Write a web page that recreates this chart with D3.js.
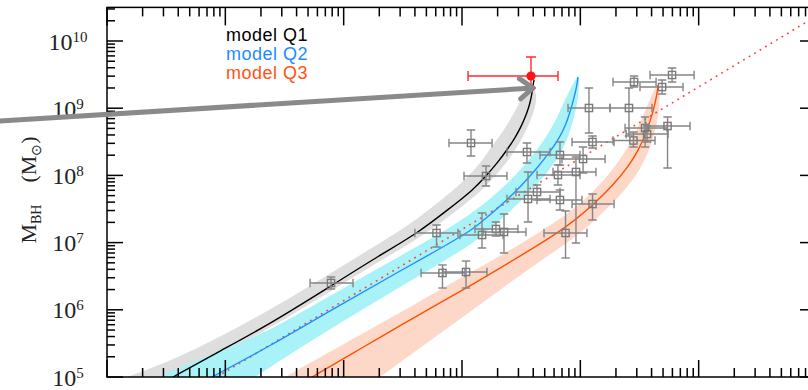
<!DOCTYPE html>
<html><head><meta charset="utf-8">
<script src="https://cdn.jsdelivr.net/npm/d3@7"></script>
<style>
html,body{margin:0;padding:0;background:#fff;}
svg{display:block;}
</style></head><body>
<svg id="chart" width="808" height="390"></svg>
<script>
// All quantities are stored as log10 values.
// Model curves (host mass, black-hole mass)
const q1X = [6.558, 6.955, 7.378, 7.893, 8.307, 8.628, 8.899, 9.093, 9.203, 9.304, 9.380, 9.448, 9.507, 9.549, 9.575, 9.592, 9.600, 9.609];
const q1Y = [5.000, 5.387, 5.789, 6.354, 6.815, 7.143, 7.515, 7.783, 7.991, 8.199, 8.378, 8.557, 8.750, 8.929, 9.077, 9.226, 9.345, 9.420];
const q2X = [6.887, 7.378, 7.910, 8.476, 8.780, 8.983, 9.093, 9.237, 9.380, 9.507, 9.634, 9.744, 9.828, 9.879, 9.913, 9.947, 9.972, 9.980];
const q2Y = [5.000, 5.461, 6.012, 6.577, 6.875, 7.083, 7.202, 7.411, 7.634, 7.857, 8.110, 8.348, 8.571, 8.765, 8.943, 9.152, 9.345, 9.464];
const q3X = [7.732, 8.138, 8.501, 8.899, 9.068, 9.380, 9.659, 9.828, 9.955, 10.107, 10.285, 10.403, 10.488, 10.564, 10.614, 10.648, 10.657];
const q3Y = [5.000, 5.417, 5.789, 6.190, 6.354, 6.682, 6.979, 7.173, 7.336, 7.560, 7.872, 8.125, 8.363, 8.661, 8.943, 9.196, 9.345];

// Model scatter envelopes: upper-left and lower-right edges
const q1UpX = [6.169, 6.558, 6.955, 7.378, 7.893, 8.307, 8.628, 8.899, 9.068, 9.186, 9.279, 9.372, 9.440, 9.490, 9.541, 9.575];
const q1UpY = [5.000, 5.253, 5.595, 5.997, 6.548, 6.994, 7.351, 7.738, 8.006, 8.259, 8.497, 8.720, 8.929, 9.107, 9.226, 9.301];
const q1LoX = [6.617, 6.955, 7.378, 7.893, 8.307, 8.628, 8.899, 9.093, 9.237, 9.347, 9.440, 9.516, 9.575, 9.617, 9.634, 9.609];
const q1LoY = [5.000, 5.327, 5.729, 6.280, 6.726, 7.054, 7.396, 7.664, 7.902, 8.125, 8.348, 8.571, 8.795, 9.003, 9.167, 9.301];

const q2UpX = [6.423, 6.887, 7.378, 7.910, 8.476, 8.780, 8.983, 9.093, 9.237, 9.380, 9.507, 9.634, 9.727, 9.803, 9.854, 9.904, 9.947, 9.972];
const q2UpY = [5.000, 5.342, 5.685, 6.235, 6.801, 7.098, 7.321, 7.455, 7.649, 7.872, 8.110, 8.378, 8.616, 8.854, 9.062, 9.241, 9.390, 9.464];
const q2LoX = [7.251, 7.378, 7.910, 8.476, 8.780, 8.983, 9.093, 9.237, 9.380, 9.507, 9.634, 9.744, 9.828, 9.887, 9.938, 9.972, 9.989, 9.989];
const q2LoY = [5.000, 5.149, 5.744, 6.339, 6.652, 6.875, 6.994, 7.202, 7.426, 7.634, 7.857, 8.095, 8.304, 8.527, 8.795, 9.048, 9.271, 9.449];

const q3UpX = [7.504, 8.138, 8.501, 8.899, 9.068, 9.380, 9.659, 9.828, 9.955, 10.107, 10.251, 10.352, 10.437, 10.513, 10.572, 10.614, 10.648];
const q3UpY = [5.000, 5.625, 5.982, 6.384, 6.548, 6.860, 7.158, 7.351, 7.515, 7.753, 8.036, 8.274, 8.527, 8.810, 9.062, 9.241, 9.345];
const q3LoX = [8.307, 8.645, 8.983, 9.321, 9.659, 9.828, 9.955, 10.107, 10.285, 10.420, 10.521, 10.589, 10.640, 10.665, 10.673, 10.665];
const q3LoY = [5.000, 5.432, 5.863, 6.295, 6.726, 6.920, 7.083, 7.307, 7.604, 7.872, 8.140, 8.408, 8.705, 8.973, 9.196, 9.330];

// Local scaling relation (dotted)
const relX = [6.928, 12.0];
const relY = [5.000, 10.376];

// Observed sample: centre and error limits
const obsX   = [7.893, 8.785, 8.835, 9.034, 9.076, 9.203, 9.549, 9.558, 9.634, 9.811, 9.828, 10.023, 9.963, 9.828, 10.103, 10.449, 10.073, 10.411, 10.454, 10.775, 10.691, 10.547, 10.564, 10.737, 10.103, 9.875, 9.169, 9.287, 9.355];
const obsXlo = [7.716, 8.602, 8.654, 8.840, 8.890, 9.017, 9.380, 9.380, 9.456, 9.634, 9.634, 9.845, 9.769, 9.659, 9.930, 10.276, 9.896, 10.251, 10.276, 10.589, 10.504, 10.378, 10.387, 10.555, 9.930, 9.693, 8.983, 9.110, 9.178];
const obsXhi = [8.079, 8.966, 9.025, 9.211, 9.254, 9.380, 9.744, 9.744, 9.828, 9.997, 10.014, 10.209, 10.132, 9.997, 10.285, 10.631, 10.251, 10.606, 10.640, 10.961, 10.868, 10.733, 10.741, 10.927, 10.285, 10.056, 9.347, 9.473, 9.541];
const obsY   = [6.399, 7.143, 6.548, 6.563, 8.482, 7.991, 8.348, 7.649, 7.753, 8.006, 7.634, 8.244, 8.051, 8.304, 8.497, 8.519, 9.003, 9.003, 9.390, 9.494, 9.315, 8.705, 8.616, 8.735, 7.574, 7.143, 7.113, 7.202, 7.158];
const obsYlo = [6.310, 6.935, 6.324, 6.324, 8.289, 7.842, 8.185, 7.307, 7.634, 7.857, 7.485, 8.036, 6.994, 8.155, 8.408, 8.423, 8.631, 8.586, 9.315, 9.390, 9.211, 8.423, 8.497, 8.110, 7.336, 6.771, 6.920, 7.098, 6.845];
const obsYhi = [6.488, 7.262, 6.667, 6.726, 8.676, 8.140, 8.482, 8.051, 7.857, 8.155, 7.783, 8.423, 8.274, 8.497, 8.586, 8.646, 9.301, 9.301, 9.479, 9.598, 9.420, 8.869, 8.735, 8.869, 7.723, 7.470, 7.440, 7.307, 7.426];

// High-redshift object
const objX = 9.583, objXlo = 9.051, objXhi = 9.811;
const objY = 9.479, objYlo = 9.301, objYhi = 9.762;

// Annotation arrow start (log10 units, left of the frame)
const arrowFromX = 5.096, arrowFromY = 8.810;

// Axis decades
const yDecades = [5, 6, 7, 8, 9, 10];
const legendLabels = ["model Q1", "model Q2", "model Q3"];
const legendColors = ["#000000", "#1e8cff", "#ff5214"];

const P = v => Math.pow(10, v);
const svg = d3.select("#chart");
const x = d3.scaleLog().domain([1e6, 1e12]).range([107, 817]);
const y = d3.scaleLog().domain([1e5, P(10.5)]).range([377, 7.4]);
const X = v => x(P(v)), Y = v => y(P(v));
const [x0, x1] = x.range(), [y0, y1] = y.range();

svg.append("defs").append("clipPath").attr("id", "plot")
  .append("rect").attr("x", x0).attr("y", y1).attr("width", x1 - x0).attr("height", y0 - y1);
const g = svg.append("g").attr("clip-path", "url(#plot)");

const line = d3.line().x(d => X(d[0])).y(d => Y(d[1])).curve(d3.curveBasis);
const zip = (a, b) => a.map((v, i) => [v, b[i]]);

function band(ux, uy, lx, ly, color) {
  const up = zip(ux, uy), lo = zip(lx, ly).reverse();
  const path = line(up) + "L" + line(lo).slice(1) + "Z";
  g.append("path").attr("d", path).attr("fill", color).attr("stroke", "none");
}
band(q1UpX, q1UpY, q1LoX, q1LoY, "#dedede");
band(q2UpX, q2UpY, q2LoX, q2LoY, "#a9f3f8");
band(q3UpX, q3UpY, q3LoX, q3LoY, "#fdd8c8");

// dotted relation
g.append("path").attr("d", d3.line().x(d => X(d[0])).y(d => Y(d[1]))(zip(relX, relY)))
  .attr("fill", "none").attr("stroke", "#ff4040").attr("stroke-width", 1.6)
  .attr("stroke-dasharray", "1.8,4.6");

// model curves
[[q1X, q1Y, "#000000"], [q2X, q2Y, "#1e90ff"], [q3X, q3Y, "#ff5000"]].forEach(([a, b, c]) => {
  g.append("path").attr("d", line(zip(a, b))).attr("fill", "none")
    .attr("stroke", c).attr("stroke-width", 1.4);
});

// observed points
const obs = g.append("g").attr("stroke", "#858585").attr("stroke-width", 1.4).attr("fill", "none");
const cap = 4.2;
obsX.forEach((v, i) => {
  const cx = X(v), cy = Y(obsY[i]);
  const xl = X(obsXlo[i]), xh = X(obsXhi[i]), yl = Y(obsYlo[i]), yh = Y(obsYhi[i]);
  const gp = obs.append("g");
  gp.append("line").attr("x1", xl).attr("x2", xh).attr("y1", cy).attr("y2", cy);
  gp.append("line").attr("x1", xl).attr("x2", xl).attr("y1", cy - cap).attr("y2", cy + cap);
  gp.append("line").attr("x1", xh).attr("x2", xh).attr("y1", cy - cap).attr("y2", cy + cap);
  gp.append("line").attr("x1", cx).attr("x2", cx).attr("y1", yl).attr("y2", yh);
  gp.append("line").attr("x1", cx - cap).attr("x2", cx + cap).attr("y1", yl).attr("y2", yl);
  gp.append("line").attr("x1", cx - cap).attr("x2", cx + cap).attr("y1", yh).attr("y2", yh);
  gp.append("rect").attr("x", cx - 3.6).attr("y", cy - 3.6).attr("width", 7.2).attr("height", 7.2)
    .attr("stroke", "#7a7a7a");
});

// high-redshift object
{
  const cx = X(objX), cy = Y(objY);
  const r = g.append("g").attr("stroke", "#ff2a2a").attr("stroke-width", 1.4);
  const xl = X(objXlo), xh = X(objXhi), yl = Y(objYlo), yh = Y(objYhi), c = 5;
  r.append("line").attr("x1", xl).attr("x2", xh).attr("y1", cy).attr("y2", cy);
  r.append("line").attr("x1", xl).attr("x2", xl).attr("y1", cy - c).attr("y2", cy + c);
  r.append("line").attr("x1", xh).attr("x2", xh).attr("y1", cy - c).attr("y2", cy + c);
  r.append("line").attr("x1", cx).attr("x2", cx).attr("y1", yl).attr("y2", yh);
  r.append("line").attr("x1", cx - c).attr("x2", cx + c).attr("y1", yl).attr("y2", yl);
  r.append("line").attr("x1", cx - c).attr("x2", cx + c).attr("y1", yh).attr("y2", yh);
  g.append("circle").attr("cx", cx).attr("cy", cy).attr("r", 4.6).attr("fill", "#ff1414");
}

// frame and ticks
const ax = svg.append("g").attr("stroke", "#000").attr("stroke-width", 1.5);
ax.append("rect").attr("x", x0).attr("y", y1).attr("width", x1 - x0).attr("height", y0 - y1).attr("fill", "none");
const ticksIn = (dom) => {
  const out = [];
  for (let d = Math.floor(Math.log10(dom[0])); d <= Math.ceil(Math.log10(dom[1])); d++)
    for (let k = 1; k <= 9; k++) {
      const v = k * Math.pow(10, d);
      if (v >= dom[0] * 0.999 && v <= dom[1] * 1.001) out.push({ v, major: k === 1 });
    }
  return out;
};
ticksIn(x.domain()).forEach(t => {
  const px = x(t.v);
  ax.append("line").attr("x1", px).attr("x2", px).attr("y1", y0).attr("y2", y0 - (t.major ? 17 : 9));
  ax.append("line").attr("x1", px).attr("x2", px).attr("y1", y1).attr("y2", y1 + (t.major ? 18 : 9));
});
ticksIn(y.domain()).forEach(t => {
  const py = y(t.v);
  ax.append("line").attr("y1", py).attr("y2", py).attr("x1", x0).attr("x2", x0 + (t.major ? 16 : 8));
  ax.append("line").attr("y1", py).attr("y2", py).attr("x1", x1).attr("x2", x1 - (t.major ? 17 : 9));
});

// y tick labels
const lab = svg.append("g").attr("font-family", "'Liberation Serif','Times New Roman',serif").attr("fill", "#222");
yDecades.forEach(d => {
  const t = lab.append("text").attr("x", 68).attr("y", y(P(d)) + 8.5).attr("text-anchor", "middle");
  t.append("tspan").attr("font-size", 24).text("10");
  t.append("tspan").attr("font-size", 15).attr("dy", -8).text(String(d));
});

// y axis title
{
  const t = svg.append("text").attr("transform", "translate(36,190) rotate(-90)")
    .attr("text-anchor", "middle").attr("font-family", "'Liberation Serif','Times New Roman',serif")
    .attr("fill", "#222").attr("font-size", 22);
  t.append("tspan").text("M");
  t.append("tspan").attr("font-size", 14).attr("dy", 5).text("BH");
  t.append("tspan").attr("dy", -5).text("\u2003(M");
  t.append("tspan").attr("font-size", 14).attr("dy", 5).text("\u2299");
  t.append("tspan").attr("dy", -5).text(")");
}

// legend
legendLabels.forEach((s, i) => {
  svg.append("text").attr("x", 226).attr("y", 41 + i * 19)
    .attr("font-family", "'Liberation Sans',Arial,sans-serif").attr("font-size", 18)
    .attr("letter-spacing", 0.5).attr("fill", legendColors[i]).text(s);
});

// annotation arrow pointing at the high-redshift object
{
  const tx = X(objX) + 2, ty = Y(objYlo);
  const fx = X(arrowFromX), fy = Y(arrowFromY);
  const ang = Math.atan2(ty - fy, tx - fx);
  const hl = 16.5, ha = 0.66;
  const a = svg.append("g").attr("stroke", "#8a8a8a").attr("stroke-width", 5)
    .attr("stroke-linecap", "round").attr("stroke-linejoin", "round").attr("fill", "none");
  a.append("line").attr("x1", fx).attr("y1", fy).attr("x2", tx).attr("y2", ty);
  a.append("polyline").attr("points", [
    [tx - hl * Math.cos(ang - ha), ty - hl * Math.sin(ang - ha)],
    [tx, ty],
    [tx - hl * Math.cos(ang + ha), ty - hl * Math.sin(ang + ha)]
  ].map(p => p.join(",")).join(" "));
}
</script>
</body></html>
